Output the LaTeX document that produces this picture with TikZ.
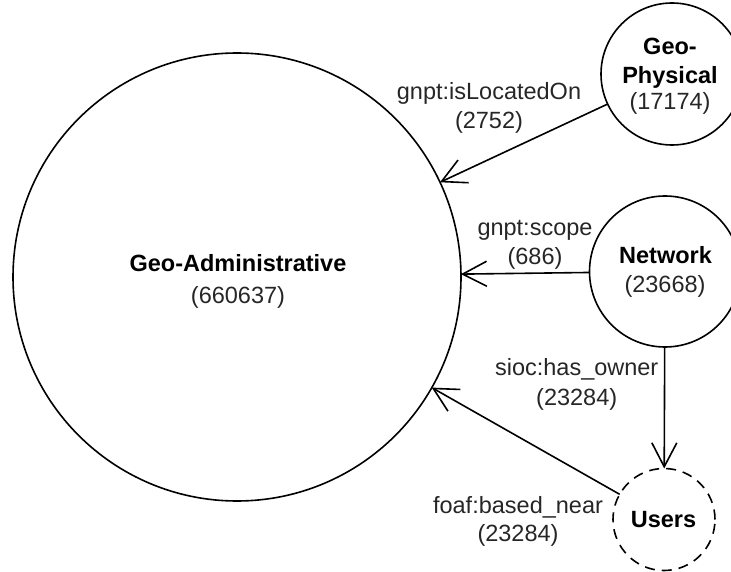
\documentclass[tikz,border=0pt]{standalone}
\usepackage{fontspec}
\setmainfont{Liberation Sans}
\usetikzlibrary{arrows.meta}
\begin{document}
\begin{tikzpicture}[x=1pt,y=-1pt,
  every node/.style={inner sep=0pt, outer sep=0pt},
  ring/.style={circle, draw, line width=1.6pt},
  dashring/.style={ring, dash pattern=on 10pt off 7pt},
  title/.style={font=\fontsize{23.5}{28}\selectfont\bfseries, anchor=base},
  count/.style={font=\fontsize{23.5}{28}\selectfont, text=black!85, anchor=base},
  rel/.style={draw, line width=1.6pt, -{Straight Barb[length=24pt,width=25pt]}}]
\useasboundingbox (0,0) rectangle (731,572);
\clip (0,0) rectangle (731,572);

% class circles
\node[ring, minimum size=448pt] (ga) at (237,277) {};
\node[ring, minimum size=142pt] (gp) at (672,74) {};
\node[ring, minimum size=151pt] (nw) at (665,271.5) {};
\node[dashring, minimum size=102pt] (us) at (664,519.5) {};

% class names and sizes
\node[title] (gaT) at (238,271.5) {Geo-Administrative};
\node[count] (gaC) at (238,303.5) {(660637)};
\node[title] (gpT1) at (670,55) {Geo-};
\node[title] (gpT2) at (670,83.3) {Physical};
\node[count] (gpC) at (670,110) {(17174)};
\node[title] (nwT) at (665.5,263.3) {Network};
\node[count] (nwC) at (665,292.7) {(23668)};
\node[title] (usT) at (663.5,527.3) {Users};

% relation labels
\node[count] (r1a) at (489,99.5) {gnpt:isLocatedOn};
\node[count] (r1b) at (489,129) {(2752)};
\node[count] (r2a) at (535,236) {gnpt:scope};
\node[count] (r2b) at (535,265) {(686)};
\node[count] (r3a) at (576.7,375) {sioc:has\_owner};
\node[count] (r3b) at (576.7,405) {(23284)};
\node[count] (r4a) at (518,513) {foaf:based\_near};
\node[count] (r4b) at (518,541.5) {(23284)};

% relations
\draw[rel] (gp) -- (ga);
\draw[rel] (nw) -- (ga);
\draw[rel] (nw) -- (us);
\draw[rel] (us) -- (ga);
\end{tikzpicture}
\end{document}
